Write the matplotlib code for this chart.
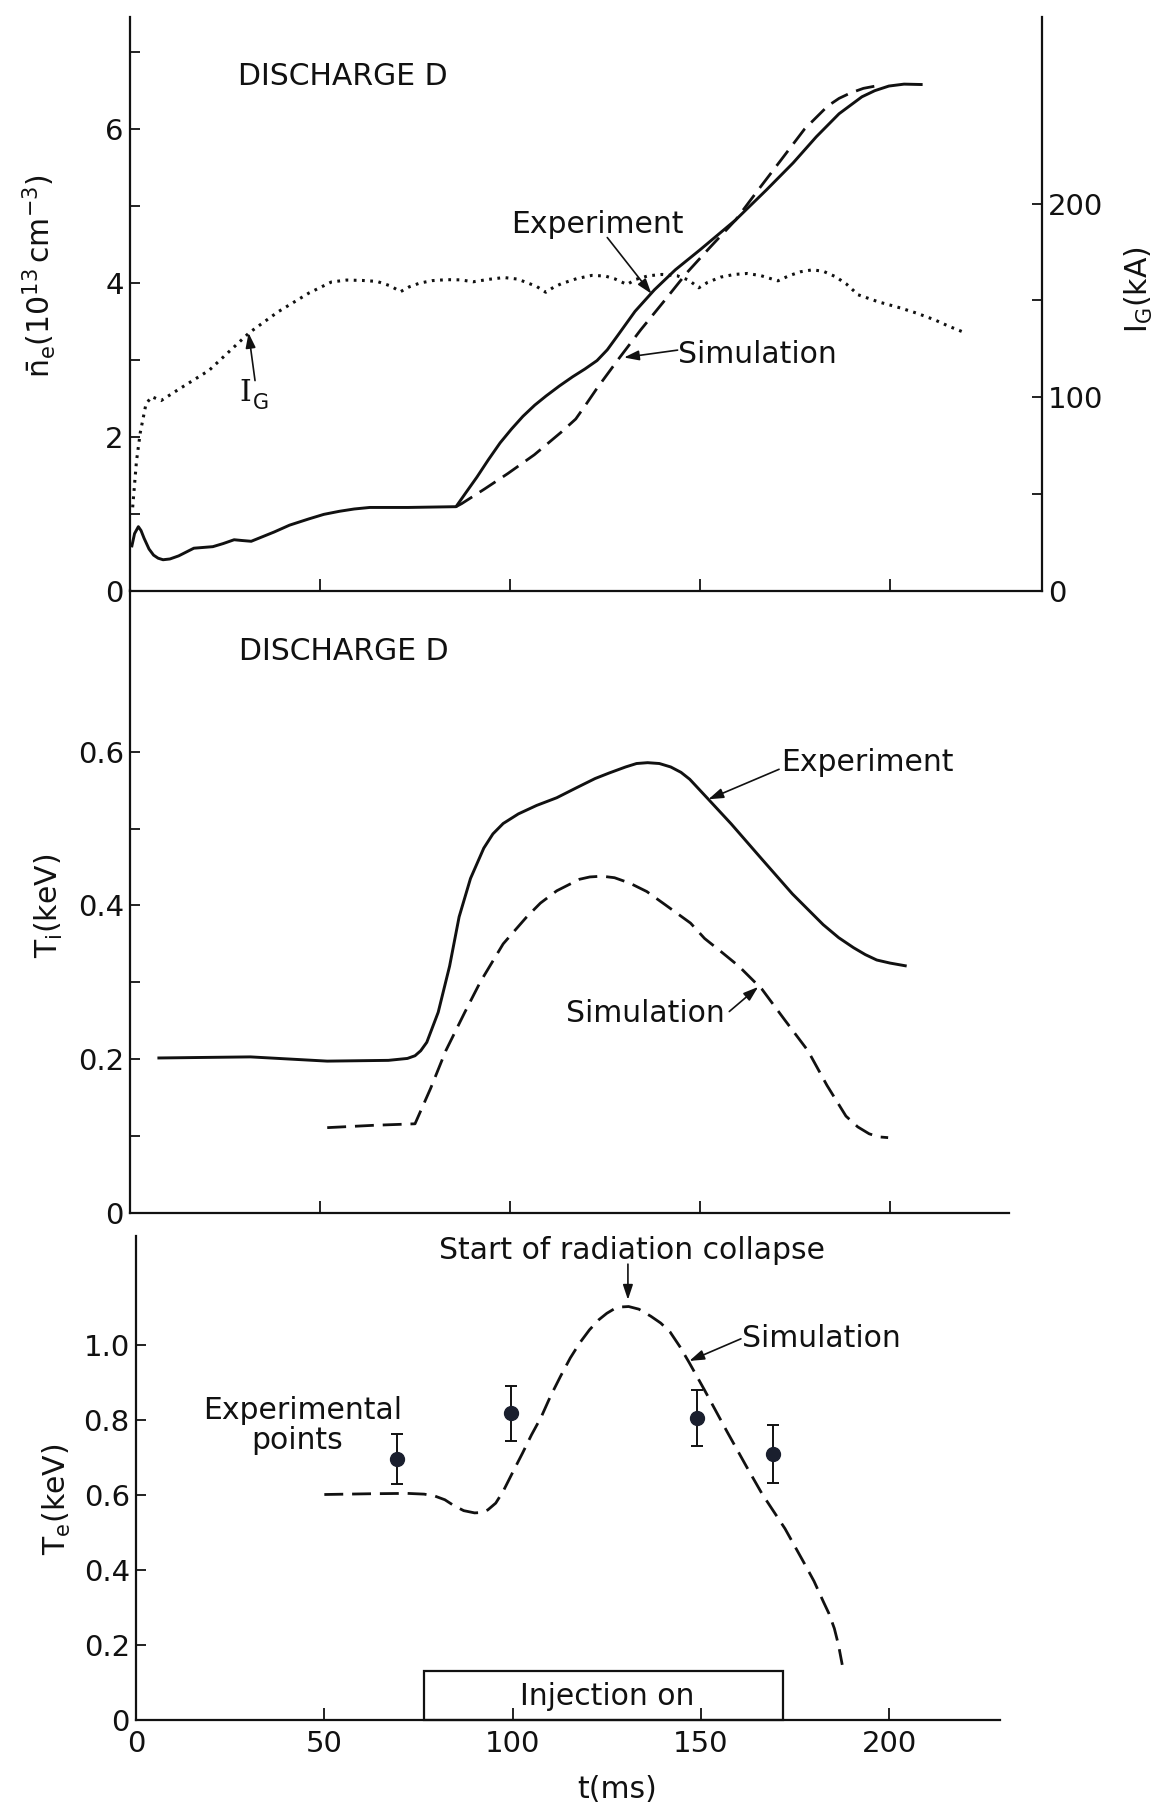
import matplotlib
matplotlib.use("Agg")
import matplotlib.pyplot as plt
from matplotlib.patches import Rectangle

plt.rcParams['font.family'] = ['DejaVu Sans']
plt.rcParams['mathtext.default'] = 'regular'

# ---- top panel: line density and current ----
ne_exp_t = [0.5, 1.2, 2.2, 2.9, 3.7, 5.0, 6.2, 7.4, 8.7, 10.5, 12.8, 16.8, 21.8, 24.5, 27.4,
            29.5, 31.9, 37.9, 42.0, 47.0, 51.0, 55.1, 59.0, 63.1, 73.2, 85.8, 88.5, 91.3,
            94.3, 97.4, 100.4, 103.4, 106.5, 109.5, 113.0, 116.5, 119.7, 122.9, 125.6, 128.4,
            132.9, 138.0, 143.5, 150.0, 159.4, 167.5, 174.5, 180.6, 186.6, 192.6, 196.0,
            199.7, 203.7, 208.2]
ne_exp = [0.58, 0.74, 0.83, 0.78, 0.68, 0.54, 0.46, 0.42, 0.40, 0.41, 0.45, 0.55, 0.57, 0.61,
          0.66, 0.65, 0.64, 0.76, 0.85, 0.93, 0.99, 1.03, 1.06, 1.08, 1.08, 1.09, 1.28, 1.475,
          1.70, 1.92, 2.10, 2.265, 2.41, 2.53, 2.66, 2.78, 2.88, 2.99, 3.13, 3.32,
          3.63, 3.91, 4.17, 4.43, 4.82, 5.21, 5.56, 5.90, 6.20, 6.42, 6.50,
          6.56, 6.585, 6.58]

ne_sim_t = [85.8, 87.3, 93.3, 99.4, 106.4, 113.5, 117.3, 120.0, 122.9, 128.4, 134.4, 140.5,
            146.5, 152.4, 159.4, 165.4, 171.5, 177.5, 183.6, 186.6, 189.6, 193.0, 196.7]
ne_sim = [1.09, 1.13, 1.32, 1.52, 1.765, 2.06, 2.23, 2.42, 2.63, 3.0, 3.39, 3.76,
          4.13, 4.45, 4.82, 5.215, 5.61, 6.0, 6.30, 6.40, 6.47, 6.53, 6.565]

ig_t = [0.7, 1.7, 2.7, 4.2, 5.7, 8.2, 12.8, 20.8, 31.4, 38.9, 47.0, 53.0, 57.0, 61.1, 65.0,
        68.5, 71.2, 73.5, 76.2, 79.5, 83.3, 87.0, 90.3, 94.5, 98.4, 102.0, 104.4, 107.0,
        109.4, 111.5, 113.5, 117.5, 121.5, 125.0, 127.6, 130.8, 133.0, 136.4, 140.0, 144.0,
        147.0, 149.7, 152.0, 155.4, 159.0, 162.4, 166.0, 170.5, 173.5, 176.5, 179.6, 182.5,
        185.6, 188.5, 191.6, 197.0, 202.7, 207.0, 211.8, 215.5, 219.8]
ig_ka = [43, 66.8, 81.6, 96.4, 100.2, 98.2, 104, 113.8, 133.3, 144, 153.7, 159.5, 160.5, 160.3,
         159.8, 157.5, 154.5, 157.0, 158.9, 160.2, 160.7, 160.6, 159.6, 160.9, 161.8, 161.0,
         159.2, 157.2, 154.2, 156.8, 158.6, 161.2, 162.9, 162.6, 161.1, 158.2, 160.8, 162.7,
         163.4, 162.7, 160.5, 156.5, 159.3, 162.0, 163.4, 163.9, 162.8, 160.1, 162.8, 164.8,
         165.8, 165.0, 162.3, 158.5, 152.9, 149.2, 146.1, 143.4, 139.9, 136.6, 133.2]

# ---- middle panel: ion temperature ----
ti_exp_t = [7.6, 31.7, 51.9, 68.0, 73.0, 75.0, 76.5, 78.1, 81.1, 84.1, 86.6, 89.6, 93.1, 95.5,
            98.2, 102.2, 107.0, 112.3, 117.5, 122.4, 126.0, 130.4, 133.3, 136.2, 139.3, 142.3,
            145.0, 147.3, 152.2, 158.2, 166.3, 174.3, 182.4, 186.5, 190.4, 193.5, 196.5,
            200.0, 204.0]
ti_exp = [0.2016, 0.203, 0.1975, 0.1985, 0.201, 0.2045, 0.211, 0.222, 0.261, 0.321, 0.385,
          0.435, 0.4745, 0.493, 0.5065, 0.519, 0.530, 0.540, 0.553, 0.565, 0.572, 0.580,
          0.5845, 0.5856, 0.5845, 0.580, 0.573, 0.564, 0.538, 0.506, 0.460, 0.415, 0.375,
          0.358, 0.345, 0.336, 0.329, 0.325, 0.3215]

ti_sim_t = [51.9, 64.0, 75.0, 79.1, 83.1, 88.1, 92.2, 98.2, 104.2, 108.0, 112.3, 118.3, 121.0,
            124.2, 127.5, 131.5, 136.0, 140.8, 147.5, 151.2, 155.5, 160.2, 166.3, 172.3,
            178.4, 183.4, 188.4, 191.5, 194.5, 197.0, 199.5]
ti_sim = [0.111, 0.114, 0.116, 0.162, 0.211, 0.261, 0.3006, 0.350, 0.384, 0.403, 0.419,
          0.434, 0.437, 0.438, 0.436, 0.429, 0.418, 0.401, 0.377, 0.357, 0.340, 0.321,
          0.291, 0.251, 0.211, 0.166, 0.126, 0.112, 0.103, 0.099, 0.098]

# ---- bottom panel: electron temperature ----
te_sim_t = [50.0, 62.0, 72.0, 76.5, 79.3, 82.0, 84.3, 87.0, 89.9, 91.8, 93.4, 95.5, 97.5,
            100.0, 102.6, 105.0, 107.6, 110.0, 112.7, 115.3, 117.8, 120.4, 122.9, 125.0,
            127.0, 129.0, 130.8, 133.5, 136.7, 139.3, 141.8, 144.4, 146.9, 150.9, 157.0,
            162.1, 166.2, 172.3, 177.4, 180.0, 182.5, 184.0, 185.4, 186.5, 187.5]
te_sim = [0.601, 0.603, 0.604, 0.602, 0.597, 0.587, 0.572, 0.558, 0.552, 0.553, 0.560, 0.578,
          0.610, 0.660, 0.711, 0.760, 0.808, 0.862, 0.916, 0.965, 1.005, 1.040, 1.067, 1.084,
          1.096, 1.101, 1.102, 1.095, 1.076, 1.058, 1.034, 0.995, 0.952, 0.880, 0.767,
          0.675, 0.603, 0.510, 0.418, 0.370, 0.315, 0.283, 0.244, 0.200, 0.147]

te_pts_t = [69.3, 99.5, 148.9, 169.2]
te_pts = [0.696, 0.817, 0.804, 0.710]
te_err = [0.067, 0.074, 0.075, 0.077]

inj_on, inj_off, inj_h = 76.4, 171.8, 0.13

K = '#111111'
W, H = 1173, 1804
TXT = 21.5
TICK = 21
dash = (6.8, 3.2)

fig = plt.figure(figsize=(W / 100, H / 100), dpi=100)
ax1 = fig.add_axes([130 / W, 1 - 590.5 / H, 912 / W, 573.5 / H])
ax1r = ax1.twinx()
ax2 = fig.add_axes([130 / W, 1 - 1213 / H, 878.6 / W, 622.5 / H])
ax3 = fig.add_axes([136 / W, 1 - 1720 / H, 863.7 / W, 484 / H])


def frame(ax, keep):
    for s in ['top', 'bottom', 'left', 'right']:
        ax.spines[s].set_visible(s in keep)
        ax.spines[s].set_linewidth(1.6)
        ax.spines[s].set_color(K)
    ax.tick_params(axis='x', direction='in', length=8.5, width=1.3, pad=7.5,
                   labelsize=TICK, colors=K)
    ax.tick_params(axis='y', direction='in', length=7, width=1.3, pad=4.5,
                   labelsize=TICK, colors=K)
    ax.patch.set_alpha(0)


def arrow(ax, tail, tip):
    ax.annotate('', xy=tip, xytext=tail,
                arrowprops=dict(arrowstyle='-|>,head_length=0.9,head_width=0.3',
                                lw=1.2, color=K, mutation_scale=10,
                                shrinkA=0, shrinkB=0))


# ---- top panel ----
frame(ax1, ['left', 'bottom'])
frame(ax1r, ['right'])
ax1.plot(ne_exp_t, ne_exp, color=K, lw=2.1, solid_joinstyle='round')
ax1.plot(ne_sim_t, ne_sim, color=K, lw=2.0, dashes=dash)
ax1r.plot(ig_t, ig_ka, color=K, lw=2.2, linestyle=(0, (0.9, 1.8)))
ax1.set_xlim(0, 240)
ax1.set_ylim(0, 7.458)
ax1r.set_ylim(0, 296.5)
ax1.set_xticks([50, 100, 150, 200])
ax1.set_xticklabels([])
ax1.set_yticks(range(8))
ax1.set_yticklabels(['0', '', '2', '', '4', '', '6', ''])
ax1r.set_yticks([0, 50, 100, 150, 200])
ax1r.set_yticklabels(['0', '', '100', '', '200'])

ax1.text(28.4, 6.58, 'DISCHARGE D', fontsize=TXT, color=K)
ax1.text(28.9, 2.466, 'I', fontsize=TXT, family='DejaVu Serif', color=K)
ax1.text(32.4, 2.356, 'G', fontsize=15, color=K)
arrow(ax1, (32.9, 2.73), (31.2, 3.35))
ax1.text(100.4, 4.645, 'Experiment', fontsize=TXT, color=K)
arrow(ax1, (125.6, 4.59), (137.2, 3.86))
ax1.text(144.3, 2.961, 'Simulation', fontsize=TXT, color=K)
arrow(ax1, (144.1, 3.126), (130.0, 3.03))

fig.text(39 / W, 1 - 275.8 / H, r'$\bar{n}_e(10^{13}\,cm^{-3})$', fontsize=TXT,
         rotation=90, ha='center', va='center', color=K)
fig.text(1139.4 / W, 1 - 290 / H, r'I$_G$(kA)', fontsize=TXT,
         rotation=90, ha='center', va='center', color=K)

# ---- middle panel ----
frame(ax2, ['left', 'bottom'])
ax2.plot(ti_exp_t, ti_exp, color=K, lw=2.1, solid_joinstyle='round')
ax2.plot(ti_sim_t, ti_sim, color=K, lw=2.0, dashes=dash)
ax2.set_xlim(0, 231.2)
ax2.set_ylim(0, 0.8095)
ax2.set_xticks([50, 100, 150, 200])
ax2.set_xticklabels([])
ax2.set_yticks([0, 0.1, 0.2, 0.3, 0.4, 0.5, 0.6])
ax2.set_yticklabels(['0', '', '0.2', '', '0.4', '', '0.6'])

ax2.text(28.7, 0.719, 'DISCHARGE D', fontsize=TXT, color=K)
ax2.text(171.3, 0.575, 'Experiment', fontsize=TXT, color=K)
arrow(ax2, (170.8, 0.577), (152.2, 0.538))
ax2.text(114.8, 0.249, 'Simulation', fontsize=TXT, color=K)
arrow(ax2, (157.7, 0.262), (165.3, 0.294))
fig.text(48.8 / W, 1 - 906 / H, r'T$_i$(keV)', fontsize=TXT,
         rotation=90, ha='center', va='center', color=K)

# ---- bottom panel ----
frame(ax3, ['left', 'bottom'])
ax3.plot(te_sim_t, te_sim, color=K, lw=2.0, dashes=dash)
ax3.errorbar(te_pts_t, te_pts, yerr=te_err, fmt='o', ms=10, color='#1a1f2e',
             ecolor=K, elinewidth=1.4, capsize=4.5, capthick=1.4)
ax3.add_patch(Rectangle((inj_on, 0), inj_off - inj_on, inj_h, fill=False,
                        lw=1.6, ec=K, clip_on=False))
ax3.set_xlim(0, 229.3)
ax3.set_ylim(0, 1.29)
ax3.set_xticks([0, 50, 100, 150, 200])
ax3.set_xticklabels(['0', '50', '100', '150', '200'])
ax3.set_yticks([0, 0.2, 0.4, 0.6, 0.8, 1.0])
ax3.set_yticklabels(['0', '0.2', '0.4', '0.6', '0.8', '1.0'])

ax3.text((inj_on + inj_off) / 2 + 1, 0.04, 'Injection on', fontsize=TXT,
         ha='center', color=K)
ax3.text(131.6, 1.23, 'Start of radiation collapse', fontsize=TXT,
         ha='center', color=K, clip_on=False)
arrow(ax3, (130.6, 1.215), (130.6, 1.12))
ax3.text(160.8, 0.993, 'Simulation', fontsize=TXT, color=K)
arrow(ax3, (160.6, 1.016), (146.9, 0.957))
ax3.text(44.2, 0.803, 'Experimental', fontsize=TXT, ha='center', color=K)
ax3.text(42.9, 0.722, 'points', fontsize=TXT, ha='center', color=K)

fig.text(57.4 / W, 1 - 1499 / H, r'T$_e$(keV)', fontsize=TXT,
         rotation=90, ha='center', va='center', color=K)
fig.text(616.7 / W, 1 - 1789 / H, 't(ms)', fontsize=TXT,
         ha='center', va='center', color=K)

fig.savefig('out.png', dpi=100, facecolor='white')
